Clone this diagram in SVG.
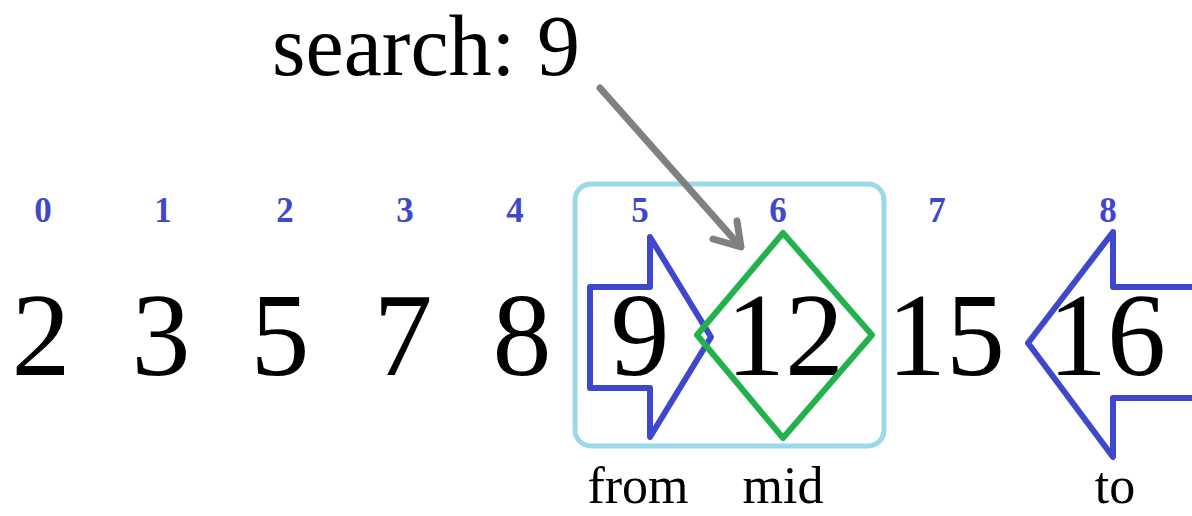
<svg xmlns="http://www.w3.org/2000/svg" width="1192" height="516" viewBox="0 0 1192 516">
<style>
.num{font-family:"Liberation Serif","Times New Roman",serif;font-size:118px;fill:#000;text-anchor:middle}
.idx{font-family:"Liberation Serif","Times New Roman",serif;font-size:35px;font-weight:bold;fill:#3f48cc;text-anchor:middle}
.lbl{font-family:"Liberation Serif","Times New Roman",serif;font-size:52px;fill:#000;text-anchor:middle}
.blue{fill:none;stroke:#3f48cc;stroke-width:6;stroke-linejoin:round}
</style>
<rect width="1192" height="516" fill="#fff"/>
<g id="title"><text x="272" y="75" font-family="Liberation Serif, Times New Roman, serif" font-size="86" fill="#000">search: 9</text></g>
<g id="range"><rect x="575" y="184" width="309" height="262" rx="16" fill="none" stroke="#99d9ea" stroke-width="5"/></g>
<g id="indices">
<text class="idx" x="43" y="222">0</text>
<text class="idx" x="163" y="222">1</text>
<text class="idx" x="285" y="222">2</text>
<text class="idx" x="405" y="222">3</text>
<text class="idx" x="515" y="222">4</text>
<text class="idx" x="640" y="222">5</text>
<text class="idx" x="778" y="222">6</text>
<text class="idx" x="937" y="222">7</text>
<text class="idx" x="1108" y="222">8</text>
</g>
<g id="values">
<text class="num" x="41" y="375">2</text>
<text class="num" x="161" y="375">3</text>
<text class="num" x="280" y="375">5</text>
<text class="num" x="403" y="375">7</text>
<text class="num" x="522" y="375">8</text>
<text class="num" x="640" y="375">9</text>
<text class="num" x="785" y="375">12</text>
<text class="num" x="946" y="375">15</text>
<text class="num" x="1107" y="375">16</text>
</g>
<g id="from-pointer"><polygon class="blue" points="590,287 650,287 650,237 711,337 650,437 650,388 590,388"/></g>
<g id="mid-pointer"><polygon points="783,233 872,335 783,438 697,335" fill="none" stroke="#22b14c" stroke-width="6" stroke-linejoin="round"/></g>
<g id="to-pointer"><polyline class="blue" points="1200,287 1113,287 1113,232 1028,343 1113,457 1113,398 1200,398"/></g>
<g id="connectors">
<line x1="600" y1="88" x2="740" y2="246" stroke="#808080" stroke-width="7" stroke-linecap="round"/>
<polyline points="713,239 741,247 737,221" fill="none" stroke="#808080" stroke-width="7" stroke-linecap="round" stroke-linejoin="round"/>
</g>
<g id="labels">
<text class="lbl" x="638" y="503">from</text>
<text class="lbl" x="783" y="503">mid</text>
<text class="lbl" x="1115" y="503">to</text>
</g>
</svg>
